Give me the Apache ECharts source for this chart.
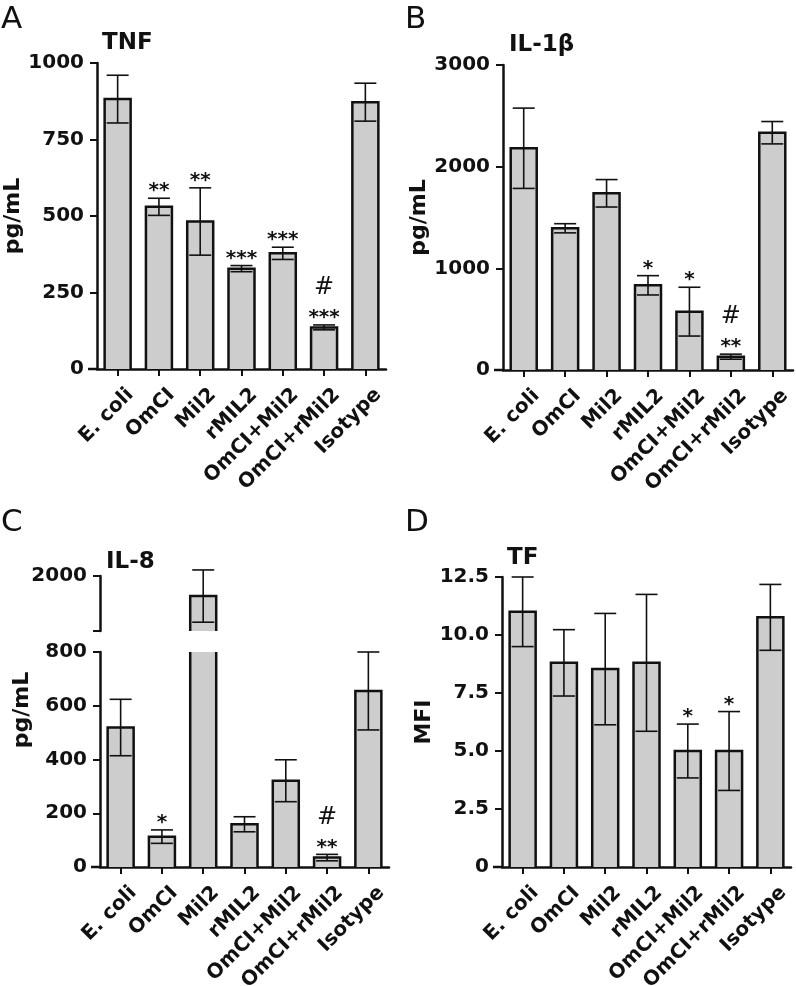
<!DOCTYPE html>
<html>
<head>
<meta charset="utf-8">
<script src="https://cdn.jsdelivr.net/npm/echarts@6/dist/echarts.min.js"></script>
<style>html,body{margin:0;padding:0;background:#fff;}#c{width:796px;height:986px;}</style>
</head>
<body>
<div id="c"></div>
<script>
// ---- data ----
const categories = ['E. coli', 'OmCI', 'Mil2', 'rMIL2', 'OmCI+Mil2', 'OmCI+rMil2', 'Isotype'];

const tnfMean = [882, 530, 482, 328, 378, 136, 872];
const tnfErr  = [78, 28, 110, 10, 20, 8, 62];
const tnfSig  = ['', '**', '**', '***', '***', '***', ''];
const tnfHash = ['', '', '', '', '', '#', ''];

const il1bMean = [2181, 1394, 1738, 833, 574, 131, 2334];
const il1bErr  = [395, 45, 135, 95, 240, 25, 110];
const il1bSig  = ['', '', '', '*', '*', '**', ''];
const il1bHash = ['', '', '', '', '', '#', ''];

const il8Mean = [519, 113, 1927, 159, 321, 35, 655];
const il8Err  = [105, 25, 95, 28, 78, 12, 145];
const il8Sig  = ['', '*', '', '', '', '**', ''];
const il8Hash = ['', '', '', '', '', '#', ''];

const tfMean = [11.0, 8.8, 8.53, 8.8, 5.0, 5.0, 10.76];
const tfErr  = [1.5, 1.43, 2.4, 2.95, 1.16, 1.7, 1.42];
const tfSig  = ['', '', '', '', '*', '*', ''];
const tfHash = ['', '', '', '', '', '', ''];

const tnfTicks = {min: 0, max: 1000, interval: 250};
const il1bTicks = {min: 0, max: 3000, interval: 1000};
const il8LowTicks = {min: 0, max: 800, interval: 200};
const il8HighTicks = {min: 1800, max: 2000, interval: 200};
const tfTicks = {min: 0, max: 12.5, interval: 2.5};

// ---- styling ----
const FONT = 'DejaVu Sans';
const INK = '#111';
const BAR_FILL = '#cdcdcd';
const BAR_W = 26;
const CAP_W = 22;

const panels = [
  {mean: tnfMean, err: tnfErr, sig: tnfSig, hash: tnfHash, ticks: tnfTicks,
   grid: {left: 97, top: 63, width: 289, height: 306}, name: 'pg/mL', nameGap: 55, fmt: v => String(v)},
  {mean: il1bMean, err: il1bErr, sig: il1bSig, hash: il1bHash, ticks: il1bTicks,
   grid: {left: 503, top: 65, width: 290, height: 305}, name: 'pg/mL', nameGap: 66, fmt: v => String(v)},
  {mean: il8Mean, err: il8Err, sig: il8Sig, hash: il8Hash, ticks: il8LowTicks,
   grid: {left: 100, top: 652, width: 289, height: 215}, name: '', nameGap: 0, fmt: v => String(v)},
  {mean: il8Mean, err: il8Err, sig: il8Sig, hash: il8Hash, ticks: il8HighTicks, upper: true,
   grid: {left: 100, top: 576, width: 289, height: 55}, name: '', nameGap: 0, fmt: v => v === 2000 ? '2000' : ''},
  {mean: tfMean, err: tfErr, sig: tfSig, hash: tfHash, ticks: tfTicks,
   grid: {left: 502, top: 577, width: 289, height: 290}, name: 'MFI', nameGap: 49, fmt: v => v === 0 ? '0' : v.toFixed(1)}
];

const grids = [], xAxes = [], yAxes = [], series = [];

panels.forEach((p, k) => {
  grids.push(Object.assign({outerBoundsMode: 'none', containLabel: false}, p.grid));
  xAxes.push({
    type: 'category', gridIndex: k, data: categories, show: !p.upper,
    axisLine: {show: true, lineStyle: {color: INK, width: 2.5}},
    axisTick: {show: true, alignWithLabel: true, length: 7, lineStyle: {color: INK, width: 2}},
    axisLabel: {interval: 0, rotate: 45, margin: 10, verticalAlign: 'top', padding: [8, 0, 0, 0],
      fontFamily: FONT, fontWeight: 'bold', fontSize: 20, color: INK}
  });
  yAxes.push({
    type: 'value', gridIndex: k, min: p.ticks.min, max: p.ticks.max, interval: p.ticks.interval,
    name: p.name, nameLocation: 'middle', nameGap: p.nameGap,
    nameTextStyle: {fontFamily: FONT, fontWeight: 'bold', fontSize: 22, color: INK},
    splitLine: {show: false},
    axisLine: {show: true, lineStyle: {color: INK, width: 2.5}},
    axisTick: {show: true, length: 7, lineStyle: {color: INK, width: 2}},
    axisLabel: {margin: 13, formatter: p.fmt, fontFamily: FONT, fontWeight: 'bold', fontSize: 20, color: INK}
  });

  const data = p.mean.map((v, i) => [i, v, p.err[i]]);

  // bars
  series.push({
    type: 'custom', xAxisIndex: k, yAxisIndex: k, data: data, z: 2,
    renderItem: function (params, api) {
      const cs = params.coordSys;
      const i = api.value(0), v = api.value(1);
      const top = api.coord([i, v]);
      const base = api.coord([i, 0]);
      let yTop = top[1], yBot = base[1];
      const topClipped = yTop < cs.y;
      yTop = Math.max(yTop, cs.y);
      yBot = Math.min(yBot, cs.y + cs.height);
      if (yTop >= yBot) return null;
      const x0 = top[0] - BAR_W / 2, x1 = top[0] + BAR_W / 2;
      const children = [{
        type: 'rect', shape: {x: x0, y: yTop, width: BAR_W, height: yBot - yTop},
        style: {fill: BAR_FILL}
      }];
      const ls = {stroke: INK, lineWidth: 2.5, fill: null};
      if (topClipped) {
        children.push({type: 'line', shape: {x1: x0, y1: yBot, x2: x0, y2: yTop}, style: ls});
        children.push({type: 'line', shape: {x1: x1, y1: yBot, x2: x1, y2: yTop}, style: ls});
      } else {
        children.push({type: 'polyline', shape: {points: [[x0, yBot], [x0, yTop], [x1, yTop], [x1, yBot]]}, style: ls});
      }
      return {type: 'group', children: children};
    }
  });

  // error bars + significance marks
  series.push({
    type: 'custom', xAxisIndex: k, yAxisIndex: k, data: data, z: 3,
    renderItem: function (params, api) {
      const cs = params.coordSys;
      const i = api.value(0), v = api.value(1), e = api.value(2);
      const m = api.coord([i, v]);
      if (m[1] < cs.y - 0.5 || m[1] > cs.y + cs.height + 0.5) return null;
      const hi = api.coord([i, v + e]);
      const lo = api.coord([i, v - e]);
      const x = m[0];
      const ls = {stroke: INK, lineWidth: 1.6};
      const children = [
        {type: 'line', shape: {x1: x, y1: hi[1], x2: x, y2: lo[1]}, style: ls},
        {type: 'line', shape: {x1: x - CAP_W / 2, y1: hi[1], x2: x + CAP_W / 2, y2: hi[1]}, style: ls},
        {type: 'line', shape: {x1: x - CAP_W / 2, y1: lo[1], x2: x + CAP_W / 2, y2: lo[1]}, style: ls}
      ];
      const s = p.sig[params.dataIndex], h = p.hash[params.dataIndex];
      if (s) children.push({type: 'text', style: {text: s, x: x, y: hi[1] - 7, align: 'center', verticalAlign: 'middle',
        fontFamily: FONT, fontWeight: 'bold', fontSize: 20, fill: INK}});
      if (h) children.push({type: 'text', style: {text: h, x: x, y: hi[1] - 37, align: 'center', verticalAlign: 'middle',
        fontFamily: FONT, fontSize: 24, fill: INK}});
      return {type: 'group', children: children};
    }
  });
});

// text decorations
function txt(text, x, y, size, weight, extra) {
  return Object.assign({type: 'text', x: x, y: y, style: {text: text, fontFamily: FONT, fontSize: size,
    fontWeight: weight, fill: INK, align: 'left', verticalAlign: 'middle'}}, extra || {});
}
const graphics = [
  txt('A', 1, 20, 31, 'normal'),
  txt('B', 405, 20, 31, 'normal'),
  txt('C', 1, 523, 31, 'normal'),
  txt('D', 405, 523, 31, 'normal'),
  txt('TNF', 102, 43, 23, 'bold'),
  txt('IL-1β', 509, 45, 23, 'bold'),
  txt('IL-8', 106, 562, 23, 'bold'),
  txt('TF', 507, 558, 23, 'bold'),
  {type: 'text', x: 22, y: 710, rotation: Math.PI / 2,
   style: {text: 'pg/mL', fontFamily: FONT, fontSize: 22, fontWeight: 'bold', fill: INK, align: 'center', verticalAlign: 'middle'}}
];
// short left extensions of the x axis lines
[0, 1, 2, 4].forEach(k => {
  const g = panels[k].grid;
  const yb = g.top + g.height;
  graphics.push({type: 'line', shape: {x1: g.left - 9, y1: yb, x2: g.left, y2: yb}, style: {stroke: INK, lineWidth: 2.5}});
});

const chart = echarts.init(document.getElementById('c'), null, {renderer: 'canvas'});
chart.setOption({
  animation: false,
  backgroundColor: '#fff',
  grid: grids, xAxis: xAxes, yAxis: yAxes, series: series,
  graphic: graphics
});
</script>
</body>
</html>
